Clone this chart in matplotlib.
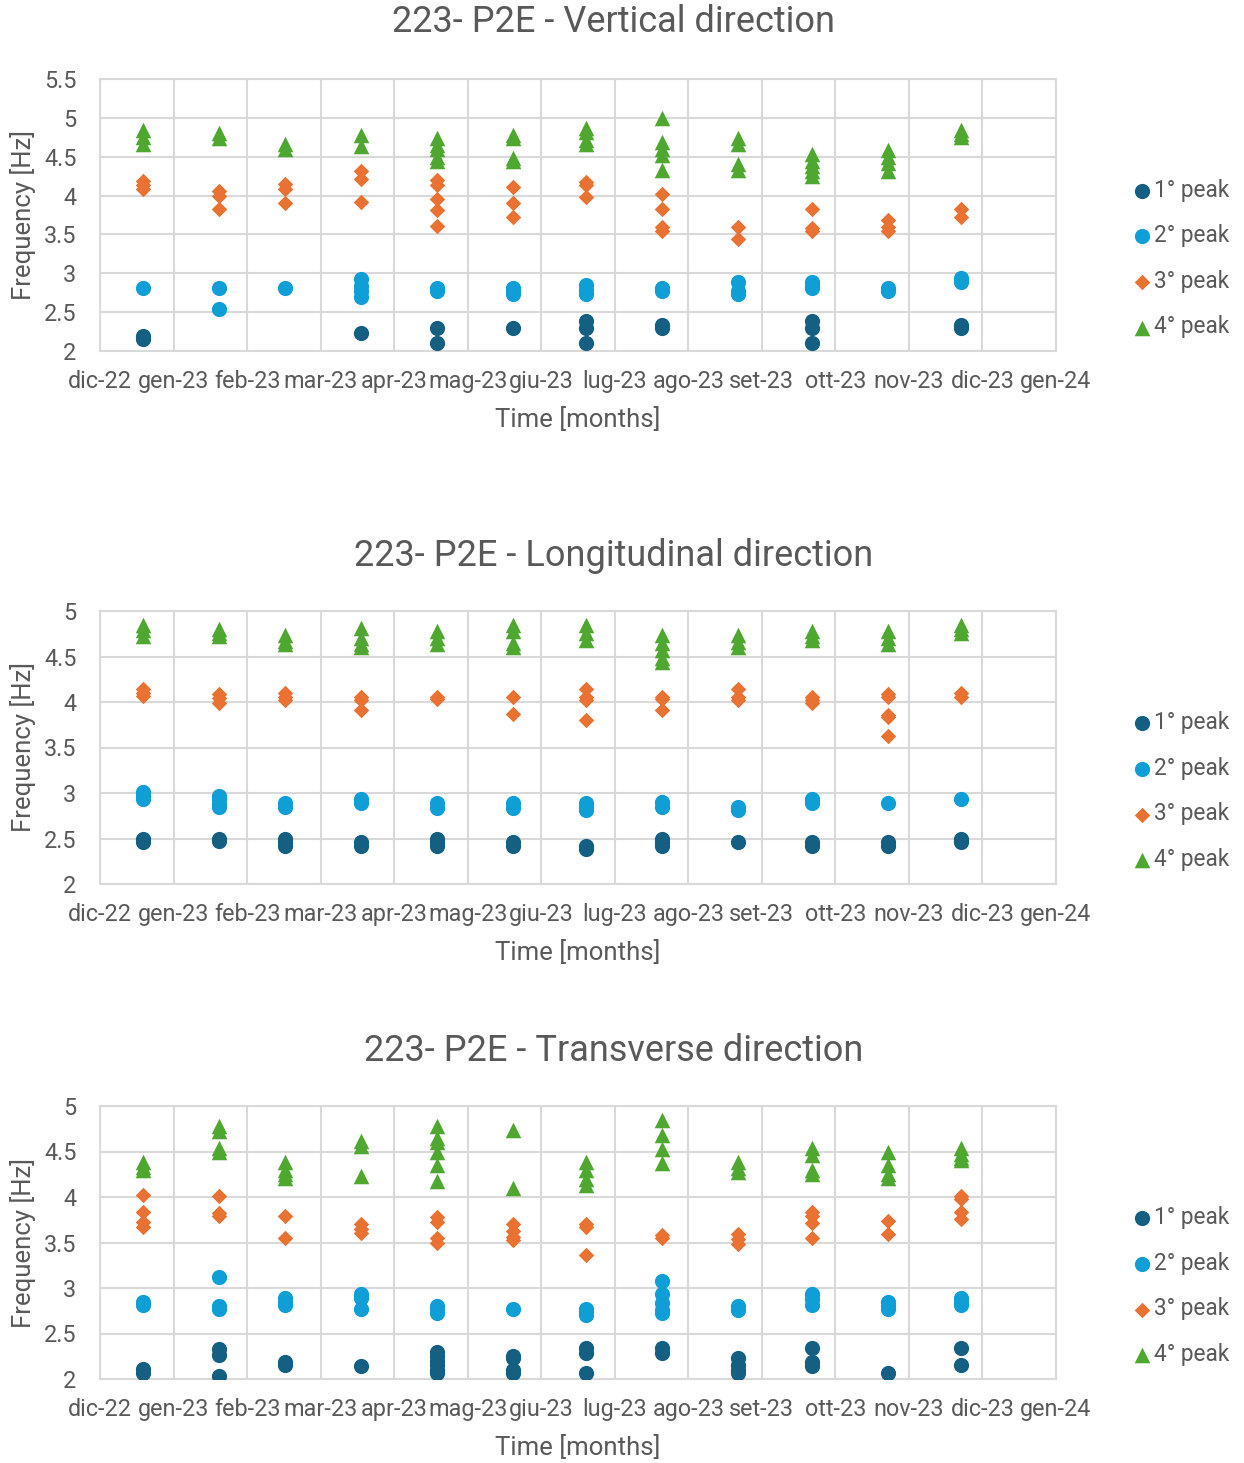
import datetime as dt
import numpy as np
import matplotlib
matplotlib.use("Agg")
import matplotlib.pyplot as plt
import matplotlib.dates as mdates

# survey dates (one column of points per visit)
visit_dates = ["2022-12-19", "2023-01-20", "2023-02-17", "2023-03-21",
               "2023-04-22", "2023-05-24", "2023-06-24", "2023-07-26",
               "2023-08-27", "2023-09-27", "2023-10-29", "2023-11-29"]

month_labels = ["dic-22", "gen-23", "feb-23", "mar-23", "apr-23", "mag-23",
                "giu-23", "lug-23", "ago-23", "set-23", "ott-23", "nov-23",
                "dic-23", "gen-24"]

series_names = ["1° peak", "2° peak", "3° peak", "4° peak"]
series_colors = ["#156082", "#0F9ED5", "#E97132", "#4EA72E"]
series_markers = ["o", "o", "D", "^"]
series_sizes = [120, 120, 62, 125]

# ---- Vertical direction
vert_p1 = [[2.19, 2.15], [], [], [2.23], [2.29, 2.1], [2.29],
           [2.39, 2.3, 2.1], [2.34, 2.29], [], [2.39, 2.3, 2.1], [], [2.34, 2.29]]
vert_p2 = [[2.81], [2.81, 2.54], [2.81], [2.93, 2.84, 2.77, 2.69], [2.81, 2.77],
           [2.81, 2.76, 2.73], [2.85, 2.78, 2.73], [2.81, 2.77], [2.89, 2.77, 2.73],
           [2.89, 2.84, 2.81], [2.81, 2.77], [2.94, 2.89]]
vert_p3 = [[4.19, 4.14, 4.09], [4.06, 3.99, 3.83], [4.15, 4.08, 3.91],
           [4.32, 4.21, 3.92], [4.2, 4.14, 3.95, 3.82, 3.61], [4.11, 3.91, 3.72],
           [4.18, 4.13, 3.98], [4.02, 3.83, 3.59, 3.55], [3.59, 3.44],
           [3.83, 3.58, 3.55], [3.68, 3.6, 3.55], [3.83, 3.72]]
vert_p4 = [[4.84, 4.75, 4.66], [4.81, 4.74], [4.66, 4.6], [4.78, 4.64],
           [4.74, 4.65, 4.6, 4.5, 4.44], [4.78, 4.74, 4.48, 4.44],
           [4.87, 4.82, 4.72, 4.67], [5.0, 4.69, 4.6, 4.52, 4.33],
           [4.74, 4.66, 4.4, 4.33], [4.53, 4.45, 4.38, 4.31, 4.25],
           [4.58, 4.5, 4.42, 4.32], [4.84, 4.79, 4.76]]

# ---- Longitudinal direction
long_p1 = [[2.5, 2.46], [2.5, 2.47], [2.5, 2.46, 2.42], [2.46, 2.42],
           [2.5, 2.46, 2.42], [2.46, 2.42], [2.42, 2.38], [2.5, 2.46, 2.42],
           [2.46], [2.46, 2.42], [2.46, 2.42], [2.5, 2.46]]
long_p2 = [[3.01, 2.97, 2.93], [2.97, 2.93, 2.88, 2.85], [2.89, 2.85], [2.93, 2.89],
           [2.89, 2.84], [2.89, 2.84], [2.89, 2.85, 2.81], [2.9, 2.85],
           [2.85, 2.81], [2.93, 2.89], [2.89], [2.93]]
long_p3 = [[4.14, 4.1, 4.07], [4.09, 4.04, 3.99], [4.1, 4.06, 4.02], [4.06, 4.02, 3.91],
           [4.06, 4.03], [4.06, 3.87], [4.14, 4.06, 4.02, 3.8], [4.06, 4.03, 3.91],
           [4.14, 4.06, 4.02], [4.06, 4.02, 3.99], [4.09, 4.06, 3.86, 3.83, 3.63],
           [4.1, 4.06]]
long_p4 = [[4.85, 4.79, 4.73], [4.8, 4.76, 4.72], [4.74, 4.67, 4.64],
           [4.81, 4.7, 4.64, 4.6], [4.78, 4.7, 4.64], [4.85, 4.78, 4.65, 4.6],
           [4.85, 4.76, 4.68], [4.74, 4.65, 4.57, 4.48, 4.44], [4.74, 4.66, 4.6],
           [4.78, 4.72, 4.68], [4.78, 4.7, 4.64], [4.85, 4.8, 4.76]]

# ---- Transverse direction
trans_p1 = [[2.11, 2.07], [2.33, 2.26, 2.03], [2.19, 2.15], [2.14],
            [2.3, 2.25, 2.2, 2.15, 2.1, 2.07], [2.25, 2.23, 2.1, 2.07],
            [2.34, 2.29, 2.07], [2.34, 2.29], [2.23, 2.15, 2.1, 2.07],
            [2.34, 2.19, 2.14], [2.07], [2.34, 2.15]]
trans_p2 = [[2.85, 2.81], [3.12, 2.8, 2.77], [2.89, 2.85, 2.81], [2.93, 2.89, 2.77],
            [2.8, 2.77, 2.73], [2.77], [2.77, 2.74, 2.7], [3.08, 2.93, 2.84, 2.76, 2.73],
            [2.8, 2.76], [2.93, 2.88, 2.81], [2.85, 2.8, 2.77], [2.89, 2.85, 2.81]]
trans_p3 = [[4.02, 3.84, 3.73, 3.67], [4.01, 3.82, 3.79], [3.79, 3.55], [3.7, 3.65, 3.6],
            [3.78, 3.72, 3.55, 3.49], [3.7, 3.63, 3.56, 3.53], [3.7, 3.67, 3.36],
            [3.58, 3.55], [3.59, 3.54, 3.48], [3.83, 3.79, 3.71, 3.55], [3.74, 3.59],
            [4.01, 3.98, 3.83, 3.76]]
trans_p4 = [[4.39, 4.33, 4.3], [4.78, 4.73, 4.54, 4.49], [4.38, 4.3, 4.25, 4.21],
            [4.61, 4.56, 4.23], [4.78, 4.65, 4.6, 4.5, 4.35, 4.18], [4.74, 4.1],
            [4.39, 4.3, 4.2, 4.13], [4.85, 4.68, 4.53, 4.37], [4.39, 4.32, 4.28],
            [4.54, 4.46, 4.3, 4.25], [4.49, 4.35, 4.25, 4.21], [4.54, 4.47, 4.43, 4.41]]

panels = [
    ("223- P2E - Vertical direction", [vert_p1, vert_p2, vert_p3, vert_p4], 5.5),
    ("223- P2E - Longitudinal direction", [long_p1, long_p2, long_p3, long_p4], 5.0),
    ("223- P2E - Transverse direction", [trans_p1, trans_p2, trans_p3, trans_p4], 5.0),
]

plt.rcParams['font.family'] = ['Roboto', 'DejaVu Sans']
text_col = "#595959"
grid_col = "#D9D9D9"

W, H = 1244, 1463
fig = plt.figure(figsize=(W / 100, H / 100), dpi=100)

# pixel boxes of the plot areas (left, top, right, bottom) and title centre y
boxes = [(100, 79, 1056, 351, 22), (100, 611, 1056, 884, 556), (100, 1106, 1056, 1379, 1051)]

x0 = dt.datetime(2022, 12, 1)
xnum0 = mdates.date2num(x0)
tick_pos = [xnum0 + 31 * i for i in range(len(month_labels))]
xs_visit = [mdates.date2num(dt.datetime.strptime(d, "%Y-%m-%d")) for d in visit_dates]

for (title, series, ymax), (l, t, r, b, ty) in zip(panels, boxes):
    ax = fig.add_axes([l / W, 1 - b / H, (r - l) / W, (b - t) / H])
    for name, vals, col, mk, sz in zip(series_names, series, series_colors,
                                       series_markers, series_sizes):
        xs, ys = [], []
        for xv, col_vals in zip(xs_visit, vals):
            for v in col_vals:
                xs.append(xv)
                ys.append(v)
        ax.scatter(xs, ys, s=sz, marker=mk, color=col, linewidths=0, label=name, zorder=3)

    yt = np.arange(2, ymax + 0.01, 0.5)
    ax.set_xlim(tick_pos[0], tick_pos[-1])
    ax.set_ylim(2, ymax)
    ax.set_xticks(tick_pos)
    ax.set_xticklabels(month_labels)
    ax.set_yticks(yt)
    ax.set_yticklabels(["%g" % v for v in yt])
    ax.tick_params(length=0, labelsize=16.8, colors=text_col)
    ax.tick_params(axis='x', pad=14)
    ax.tick_params(axis='y', pad=17)
    ax.grid(True, color=grid_col, linewidth=1.5)
    ax.set_axisbelow(True)
    for sp in ax.spines.values():
        sp.set_color(grid_col)
        sp.set_linewidth(1.5)

    ax.set_xlabel("Time [months]", fontsize=18.5, color=text_col)
    ax.xaxis.set_label_coords(0.5, -56 / (b - t))
    ax.set_ylabel("Frequency [Hz]", fontsize=18.5, color=text_col)
    ax.yaxis.set_label_coords(-0.067, 0.5)

    fig.text(613.5 / W, 1 - ty / H, title, fontsize=26, color=text_col,
             ha='center', va='center')

    ax.legend(loc='center left', bbox_to_anchor=(1.065, 0.34), frameon=False,
              fontsize=16.3, labelcolor=text_col, handletextpad=0.0,
              handlelength=1.1, labelspacing=1.0, borderpad=0)

fig.savefig("out.png", dpi=100)
